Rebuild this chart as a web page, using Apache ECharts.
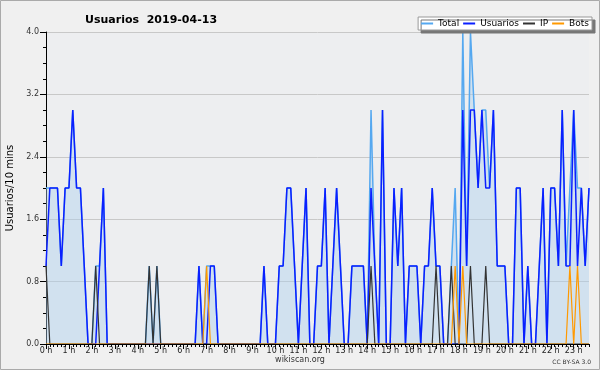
<!DOCTYPE html>
<html><head><meta charset="utf-8">
<script src="https://cdn.jsdelivr.net/npm/echarts@6/dist/echarts.min.js"></script>
<style>html,body{margin:0;padding:0;background:#f0f0f0}#c{width:600px;height:370px}</style>
</head><body><div id="c"></div><script>
// hour tick labels (one per 6 ten-minute slots)
const hourLabels = ['0 h','1 h','2 h','3 h','4 h','5 h','6 h','7 h','8 h','9 h','10 h','11 h',
  '12 h','13 h','14 h','15 h','16 h','17 h','18 h','19 h','20 h','21 h','22 h','23 h'];
const yTickLabels = ['0.0','0.8','1.6','2.4','3.2','4.0'];
const seriesNames = ['Total','Usuarios','IP','Bots'];

// values per 10-minute slot, 00:00 .. 23:40 (grouped per hour)
const totalVals = [
  2,2,2,2,1,2, 2,3,2,2,1,0, 0,1,1,2,0,0, 0,0,0,0,0,0, 0,0,0,1,0,1, 0,0,0,0,0,0,
  0,0,0,0,1,0, 1,1,1,0,0,0, 0,0,0,0,0,0, 0,0,0,1,0,0, 0,1,1,2,2,1, 0,1,2,0,0,1,
  1,2,0,1,2,1, 0,0,1,1,1,1, 0,3,1,0,3,0, 0,2,1,2,0,1, 1,1,0,1,1,2, 1,1,0,0,1,2,
  0,4,1,4,3,2, 3,3,2,3,1,1, 1,0,0,2,2,0, 1,0,0,1,2,0, 2,2,1,3,1,2, 3,2,2,1,2];
const usuariosVals = [
  1,2,2,2,1,2, 2,3,2,2,1,0, 0,0,1,2,0,0, 0,0,0,0,0,0, 0,0,0,0,0,0, 0,0,0,0,0,0,
  0,0,0,0,1,0, 0,1,1,0,0,0, 0,0,0,0,0,0, 0,0,0,1,0,0, 0,1,1,2,2,1, 0,1,2,0,0,1,
  1,2,0,1,2,1, 0,0,1,1,1,1, 0,2,1,0,3,0, 0,2,1,2,0,1, 1,1,0,1,1,2, 1,1,0,0,0,0,
  0,3,1,3,3,2, 3,2,2,3,1,1, 1,0,0,2,2,0, 1,0,0,1,2,0, 2,2,1,3,1,1, 3,1,2,1,2];
const ipVals = [
  1,0,0,0,0,0, 0,0,0,0,0,0, 0,1,0,0,0,0, 0,0,0,0,0,0, 0,0,0,1,0,1, 0,0,0,0,0,0,
  0,0,0,0,0,0, 0,0,0,0,0,0, 0,0,0,0,0,0, 0,0,0,0,0,0, 0,0,0,0,0,0, 0,0,0,0,0,0,
  0,0,0,0,0,0, 0,0,0,0,0,0, 0,1,0,0,0,0, 0,0,0,0,0,0, 0,0,0,0,0,0, 1,0,0,0,1,0,
  0,0,0,1,0,0, 0,1,0,0,0,0, 0,0,0,0,0,0, 0,0,0,0,0,0, 0,0,0,0,0,0, 0,0,0,0,0];
const botsVals = [
  0,0,0,0,0,0, 0,0,0,0,0,0, 0,0,0,0,0,0, 0,0,0,0,0,0, 0,0,0,0,0,0, 0,0,0,0,0,0,
  0,0,0,0,0,0, 1,0,0,0,0,0, 0,0,0,0,0,0, 0,0,0,0,0,0, 0,0,0,0,0,0, 0,0,0,0,0,0,
  0,0,0,0,0,0, 0,0,0,0,0,0, 0,0,0,0,0,0, 0,0,0,0,0,0, 0,0,0,0,0,0, 0,0,0,0,0,1,
  0,1,0,0,0,0, 0,0,0,0,0,0, 0,0,0,0,0,0, 0,0,0,0,0,0, 0,0,0,0,0,1, 0,1,0,0,0];

const slots = totalVals.map((_, i) => String(i));
const FONT = 'DejaVu Sans';

const chart = echarts.init(document.getElementById('c'), null, {renderer: 'canvas'});
chart.setOption({
  animation: false,
  backgroundColor: '#f0f0f0',
  title: {
    text: 'Usuarios  2019-04-13', left: 80, top: 10,
    textStyle: {fontSize: 11, fontWeight: 'bold', fontFamily: FONT, color: '#000'}
  },
  legend: {
    data: seriesNames, right: 8, top: 17, icon: 'rect', itemWidth: 12, itemHeight: 2, itemGap: 4,
    backgroundColor: '#fff', borderColor: '#999', borderWidth: 1, padding: [2, 3],
    shadowColor: '#777', shadowOffsetX: 3, shadowOffsetY: 3, shadowBlur: 0.01,
    textStyle: {fontSize: 9, fontFamily: FONT, color: '#000'}
  },
  grid: {left: 46, right: 11, top: 32, bottom: 26, show: true, backgroundColor: '#edeef0', borderWidth: 0,
    containLabel: false, outerBoundsMode: 'none'},
  xAxis: [{
    type: 'category', data: slots, boundaryGap: false, z: 5,
    axisLine: {lineStyle: {color: '#000', width: 1}},
    axisTick: {show: true, interval: 0, length: 3, lineStyle: {color: '#000'}},
    axisLabel: {show: false}, splitLine: {show: false}
  }, {
    type: 'category', data: slots, boundaryGap: false, position: 'bottom', z: 5,
    axisLine: {show: false},
    axisTick: {show: true, interval: (i) => i % 6 === 0, length: 5, lineStyle: {color: '#000'}},
    axisLabel: {interval: (i) => i % 6 === 0, formatter: (v, i) => hourLabels[Math.round(i / 6)],
      fontSize: 8, fontFamily: FONT, color: '#222', margin: 3},
    splitLine: {show: false}
  }],
  yAxis: {
    type: 'value', min: 0, max: 4, interval: 0.8,
    name: 'Usuarios/10 mins', nameLocation: 'middle', nameGap: 31,
    nameTextStyle: {fontSize: 10, fontFamily: FONT, color: '#000'},
    axisLine: {show: true, lineStyle: {color: '#000'}},
    axisTick: {show: true, length: 6, lineStyle: {color: '#000'}},
    minorTick: {show: true, splitNumber: 4, length: 3, lineStyle: {color: '#000'}},
    splitLine: {lineStyle: {color: '#c8c8c8'}},
    axisLabel: {formatter: (v) => yTickLabels[Math.round(v / 0.8)], fontSize: 8, fontFamily: FONT, color: '#333', margin: 7}
  },
  series: [{
    name: 'Total', type: 'line', data: totalVals, symbol: 'none',
    lineStyle: {color: '#55a8f0', width: 1.5}, itemStyle: {color: '#55a8f0'},
    areaStyle: {color: 'rgba(171,207,239,0.6)'}
  }, {
    name: 'Usuarios', type: 'line', data: usuariosVals, symbol: 'none',
    lineStyle: {color: '#0a1fff', width: 1.5}, itemStyle: {color: '#0a1fff'}
  }, {
    name: 'IP', type: 'line', data: ipVals, symbol: 'none',
    lineStyle: {color: '#333', width: 1.2}, itemStyle: {color: '#333'}
  }, {
    name: 'Bots', type: 'line', data: botsVals, symbol: 'none',
    lineStyle: {color: '#ff9900', width: 1.2}, itemStyle: {color: '#ff9900'}
  }],
  graphic: [{
    type: 'rect', silent: true, z: 100,
    shape: {x: 0.5, y: 0.5, width: 599, height: 369},
    style: {fill: 'none', stroke: '#aaa', lineWidth: 1}
  }, {
    type: 'text', left: 'center', top: 356,
    style: {text: 'wikiscan.org', fontSize: 8, fontFamily: FONT, fill: '#333'}
  }, {
    type: 'text', right: 9, top: 359,
    style: {text: 'CC BY-SA 3.0', fontSize: 6, fontFamily: FONT, fill: '#333'}
  }]
});
</script></body></html>
